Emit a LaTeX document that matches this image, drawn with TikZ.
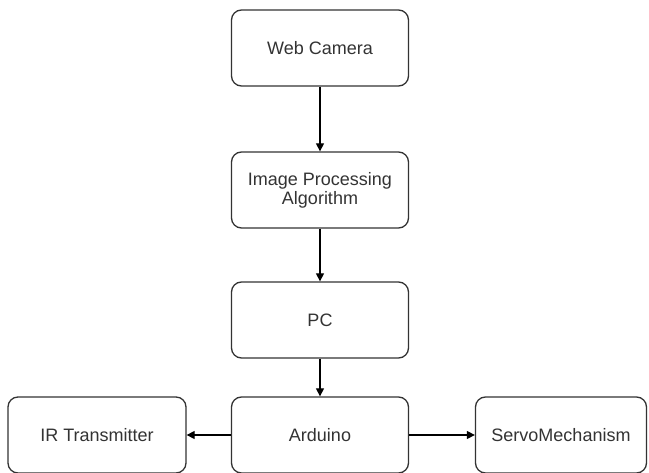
\documentclass[tikz,border=0pt]{standalone}
\usepackage{fontspec}
\setmainfont{Liberation Sans}
\usepackage{tikz}
\usetikzlibrary{arrows.meta}
\usetikzlibrary{positioning}

\begin{document}
\begin{tikzpicture}
    [
    x=1pt,y=-1pt,
    block/.style={rectangle,rounded corners=10pt,draw=black!80,line width=1.3pt,
      minimum width=177pt,minimum height=76pt,align=center,
      font=\fontsize{18}{19}\selectfont,text=black!80},
    link/.style={line width=1.3pt,-{Triangle[length=8pt,width=8pt]}},
    ]
    \useasboundingbox (0,0) rectangle (649,473);
    \node (cam) at (320,48) [block] {Web Camera};
    \node (algo) at (320,190) [block] {Image Processing\\Algorithm};
    \node (pc) at (320,320) [block] {PC};
    \node (ard) at (320,435) [block] {Arduino};
    \node (ir) at (97,435) [block,minimum width=178pt] {IR Transmitter};
    \node (servo) at (561,435) [block,minimum width=171pt] {ServoMechanism};
    \draw [link] (cam) to (algo);
    \draw [link] (algo) to (pc);
    \draw [link] (pc) to (ard);
    \draw [link] (ard) to (ir);
    \draw [link] (ard) to (servo);
  \end{tikzpicture}
\end{document}
